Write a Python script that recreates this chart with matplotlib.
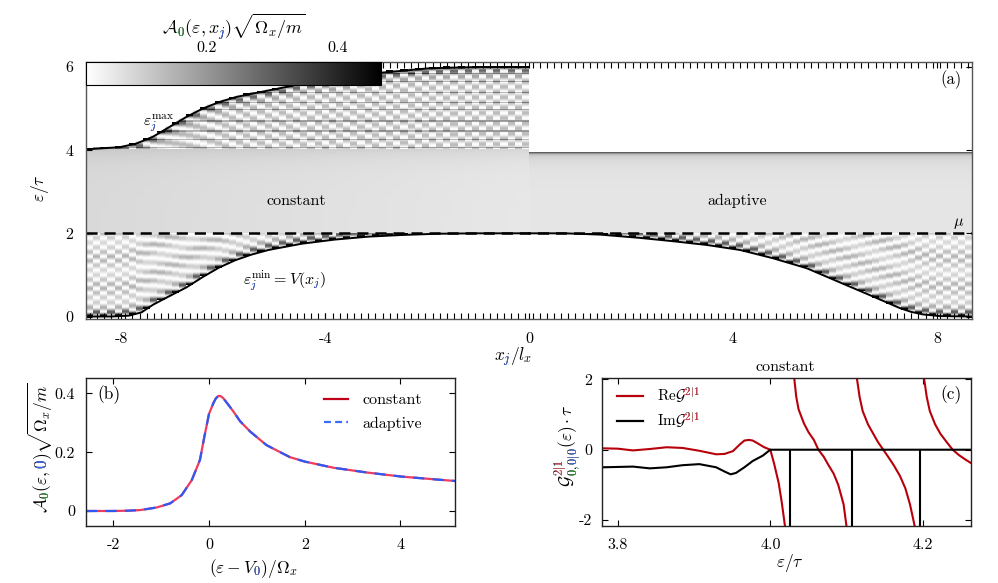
import numpy as np
import matplotlib
matplotlib.use('Agg')
import matplotlib.pyplot as plt
from matplotlib.font_manager import FontProperties
from matplotlib.textpath import text_to_path
from matplotlib.transforms import Bbox, IdentityTransform
from matplotlib.lines import Line2D
from matplotlib.ticker import FixedLocator

plt.rcParams.update({
    'font.family': 'serif',
    'font.serif': ['cmr10'],
    'mathtext.fontset': 'cm',
    'axes.unicode_minus': False,
    'axes.formatter.use_mathtext': True,
    'font.size': 11,
    'lines.scale_dashes': False,
})

# ---------------- data: panel (a) ----------------
X_LIM = 8.69
N_SITES = 124
Y_LO, Y_HI = -0.072, 6.12
N_ROWS = 258
MU = 2.0
ADAPT_TOP = 3.92
MID_TOP = 4.0
A_MIN, A_MAX = 0.015, 0.467

vmin_left_x = [-8.69, -8.2, -7.85, -7.6, -7.38, -7.07, -6.72, -6.40, -6.09, -5.77,
               -5.44, -5.11, -4.46, -3.81, -3.16, -2.50, -1.80, -1.0, 0.0]
vmin_left = [0.0, 0.0, 0.02, 0.10, 0.28, 0.48, 0.70, 0.95, 1.17, 1.35,
             1.49, 1.60, 1.75, 1.85, 1.92, 1.96, 1.99, 2.0, 2.0]
vmin_right_x = [0.0, 0.7, 1.39, 2.18, 2.83, 3.49, 4.14, 4.79, 5.45, 6.10,
                6.75, 7.28, 7.5, 7.73, 8.06, 8.69]
vmin_right = [2.0, 2.0, 1.97, 1.89, 1.81, 1.72, 1.60, 1.40, 1.16, 0.82,
              0.48, 0.20, 0.11, 0.05, 0.01, 0.0]
vmax_left_x = [-8.69, -8.03, -7.70, -7.38, -7.05, -6.72, -6.40, -6.07, -5.74, -5.42,
               -5.09, -4.76, -4.44, -4.11, -3.78, -2.92, -1.94, -0.96, 0.0]
vmax_left = [4.02, 4.07, 4.16, 4.32, 4.56, 4.80, 5.00, 5.16, 5.28, 5.36,
             5.44, 5.52, 5.61, 5.64, 5.69, 5.86, 5.97, 6.0, 6.0]
level_lines = [4.04, 4.24, 4.44, 4.68, 4.96, 5.12, 5.37, 5.62, 5.82]
LOW_PERIOD = 0.22
HIGH_PERIOD = 0.25
xticks_a = [-8, -4, 0, 4, 8]
yticks_a = [0, 2, 4, 6]
cbar_ticks = [0.2, 0.4]

# ---------------- data: panel (b) ----------------
eps_b = [-2.57, -2.0, -1.7, -1.44, -1.09, -0.81, -0.57, -0.36, -0.19, -0.1, 0.0,
         0.09, 0.14, 0.195, 0.25, 0.3, 0.4, 0.51, 0.65, 0.86, 1.2, 1.69, 2.0,
         2.6, 3.29, 4.02, 4.68, 5.14]
a_constant = [0.0, 0.0, 0.001, 0.003, 0.012, 0.026, 0.054, 0.105, 0.173, 0.25, 0.33,
              0.366, 0.382, 0.391, 0.390, 0.383, 0.362, 0.338, 0.305, 0.270, 0.224, 0.183, 0.168,
              0.147, 0.131, 0.117, 0.108, 0.102]
a_adaptive = list(a_constant)
xticks_b = [-2, 0, 2, 4]
yticks_b = [0, 0.2, 0.4]

# ---------------- data: panel (c) ----------------
re_eps = [
    [3.779, 3.80, 3.82, 3.842, 3.864, 3.885, 3.907, 3.929, 3.940, 3.951, 3.960,
     3.966, 3.972, 3.977, 3.985, 3.992, 4.000, 4.005, 4.011, 4.015, 4.019, 4.023],
    [4.029, 4.031, 4.034, 4.037, 4.044, 4.050, 4.057, 4.063, 4.070, 4.076, 4.083,
     4.089, 4.096, 4.100, 4.104],
    [4.110, 4.113, 4.117, 4.121, 4.128, 4.135, 4.141, 4.148, 4.155, 4.162, 4.170,
     4.177, 4.183, 4.189, 4.193],
    [4.199, 4.201, 4.205, 4.209, 4.216, 4.223, 4.231, 4.239, 4.247, 4.255, 4.263],
]
re_val = [
    [0.04, 0.03, -0.02, 0.02, 0.07, 0.05, -0.03, -0.13, -0.12, -0.04, 0.15,
     0.26, 0.28, 0.26, 0.16, 0.07, 0.0, -0.4, -0.95, -1.5, -2.14, -3.0],
    [3.0, 2.1, 1.5, 1.15, 0.75, 0.5, 0.28, 0.0, -0.2, -0.43, -0.68,
     -1.0, -1.55, -2.2, -3.2],
    [3.0, 2.1, 1.5, 1.1, 0.72, 0.45, 0.22, 0.0, -0.22, -0.45, -0.75,
     -1.1, -1.55, -2.15, -3.2],
    [3.0, 2.1, 1.5, 1.1, 0.72, 0.45, 0.22, 0.0, -0.15, -0.27, -0.38],
]
im_eps = [3.779, 3.80, 3.82, 3.842, 3.864, 3.885, 3.907, 3.929, 3.940, 3.948, 3.955,
          3.966, 3.977, 3.990, 4.000, 4.263]
im_val = [-0.50, -0.49, -0.48, -0.53, -0.50, -0.44, -0.41, -0.50, -0.62, -0.70, -0.66,
          -0.50, -0.32, -0.17, 0.0, 0.0]
pole_eps = [4.026, 4.107, 4.196]
POLE_DEPTH = -3.0
xticks_c = [3.8, 4.0, 4.2]
yticks_c = [-2, 0, 2]

GREEN = '#1f9a2a'
BLUE = '#4169ee'
RED_T = '#f03a4c'
TICK_FS = 11.5

# ---------------- figure ----------------
W, H, DPI = 998, 583, 100
fig = plt.figure(figsize=(W / DPI, H / DPI), dpi=DPI)
renderer = fig.canvas.get_renderer()

ax_a = fig.add_axes([86 / W, 1 - 319.5 / H, 886 / W, 257.5 / H])
ax_b = fig.add_axes([86 / W, 1 - 525.7 / H, 369 / W, 147.4 / H])
ax_c = fig.add_axes([601.7 / W, 1 - 525.7 / H, 369.3 / W, 147.4 / H])


def glyph_boxes(s, size):
    prop = FontProperties(size=size)
    info, gmap, rects = text_to_path.get_glyphs_mathtext(prop, s)
    k = size / 100.0 * DPI / 72.0
    boxes = []
    for gid, ox, oy, sc in info:
        verts = np.asarray(gmap[gid][0])
        if verts.size == 0:
            boxes.append((ox * k, ox * k, oy * k, oy * k))
            continue
        v = verts * sc + [ox, oy]
        boxes.append((v[:, 0].min() * k, v[:, 0].max() * k,
                      v[:, 1].min() * k, v[:, 1].max() * k))
    return boxes


def rich_text(xd, yd, s, size, colored, rot=0, align='left', pad=0.8, base=True):
    prop = FontProperties(size=size)
    w, h, d = renderer.get_text_width_height_descent(s, prop, ismath=True)
    off = -w / 2 if align == 'center' else 0.0
    if rot == 0:
        x0, y0 = xd + off, yd
    else:
        x0, y0 = xd, yd + off
    kw = dict(transform=IdentityTransform(), fontsize=size, ha='left',
              va='baseline', rotation=rot, rotation_mode='anchor')
    if base:
        fig.text(x0, y0, s, color='k', **kw)
    boxes = glyph_boxes(s, size)
    for idx, col in colored:
        b = boxes[idx]
        gx0, gx1, gy0, gy1 = b[0] - pad, b[1] + pad, b[2] - pad, b[3] + pad
        if rot == 0:
            bb = Bbox.from_extents(x0 + gx0, y0 + gy0, x0 + gx1, y0 + gy1)
        else:
            bb = Bbox.from_extents(x0 - gy1, y0 + gx0, x0 - gy0, y0 + gx1)
        t = fig.text(x0, y0, s, color=col, **kw)
        t.set_clip_box(bb)
        t.set_clip_on(True)


# ---------------- panel (a) heatmap ----------------
x_edges = np.linspace(-X_LIM, X_LIM, N_SITES + 1)
x_c = 0.5 * (x_edges[1:] + x_edges[:-1])
e_edges = np.linspace(Y_LO, Y_HI, N_ROWS + 1)
e_c = 0.5 * (e_edges[1:] + e_edges[:-1])
left = x_c < 0
lo = np.where(left, np.interp(x_c, vmin_left_x, vmin_left),
              np.interp(x_c, vmin_right_x, vmin_right))
hi = np.where(left, np.interp(x_c, vmax_left_x, vmax_left), ADAPT_TOP)
E = e_c[:, None] * np.ones((1, N_SITES))
J = np.arange(N_SITES)[None, :] * np.ones((N_ROWS, 1))
LO = lo[None, :] * np.ones((N_ROWS, 1))
HI = hi[None, :] * np.ones((N_ROWS, 1))
LM = left[None, :] & np.ones((N_ROWS, 1), bool)
XC = x_c[None, :] * np.ones((N_ROWS, 1))

Z = np.zeros((N_ROWS, N_SITES))
inb = (E >= LO - 0.012) & (E <= HI + 0.012)

d_lo = np.clip(E - LO, 0, None)
osc_lo = 0.5 + 0.5 * np.cos(2 * np.pi * d_lo / LOW_PERIOD + np.pi * J)
env_lo = 0.10 + 0.30 * np.exp(-d_lo / 0.12)
band_lo = 0.75 + 0.25 * np.cos(2 * np.pi * d_lo / 0.7)
z_low = 0.01 + env_lo * (0.1 + 1.3 * osc_lo * band_lo)
m_low = inb & (E < MU)
Z[m_low] = z_low[m_low]

m_mid = inb & (E >= MU) & ((E <= MID_TOP) | ~LM)
z_mid_l = 0.058 + 0.025 * (np.abs(XC) / X_LIM) + 0.03 * np.exp(-np.abs(MID_TOP - E) / 0.25)
z_mid_r = 0.062 + 0.05 * np.exp(-np.abs(HI - E) / 0.2) + 0.22 * np.exp(-np.abs(HI - E) / 0.025)
z_mid = np.where(LM, z_mid_l, z_mid_r)
Z[m_mid] = z_mid[m_mid]

m_up = inb & LM & (E > MID_TOP)
d_hi = np.clip(HI - E, 0, None)
osc_hi = 0.5 + 0.5 * np.cos(2 * np.pi * d_hi / HIGH_PERIOD + np.pi * J)
env_hi = 0.09 + 0.33 * np.exp(-d_hi / 0.10)
z_up = 0.01 + env_hi * (0.1 + 1.3 * osc_hi)
for lv in level_lines:
    z_up = z_up + 0.12 * (np.abs(E - lv) < 0.013)
Z[m_up] = z_up[m_up]

im = ax_a.imshow(Z, extent=[-X_LIM, X_LIM, Y_LO, Y_HI], origin='lower',
                 aspect='auto', cmap='gray_r', vmin=A_MIN, vmax=A_MAX,
                 interpolation='nearest')
ax_a.plot(vmin_left_x, vmin_left, color='k', lw=1.4)
ax_a.plot(vmin_right_x, vmin_right, color='k', lw=1.4)
ax_a.plot(vmax_left_x, vmax_left, color='k', lw=1.4)
ax_a.axhline(MU, color='k', lw=1.8, dashes=(8, 5))
ax_a.set_xlim(-X_LIM, X_LIM)
ax_a.set_ylim(Y_LO, Y_HI)
ax_a.set_xticks(xticks_a, [str(v) for v in xticks_a])
ax_a.set_yticks(yticks_a, [str(v) for v in yticks_a])
ax_a.xaxis.set_minor_locator(FixedLocator(x_c))
ax_a.tick_params(which='both', direction='in', top=True, bottom=True,
                 left=True, right=True, length=4, width=0.8, labelsize=TICK_FS)
ax_a.tick_params(axis='x', which='major', pad=9)
ax_a.tick_params(axis='y', which='major', pad=9)
for sp in ax_a.spines.values():
    sp.set_color('#555555')
    sp.set_linewidth(1.0)

ax_a.text(-4.57, 2.77, 'constant', ha='center', va='center', fontsize=11.5)
ax_a.text(4.08, 2.77, 'adaptive', ha='center', va='center', fontsize=11.5)
ax_a.text(8.42, 2.24, r'$\mu$', ha='center', va='center', fontsize=11.5)
ax_a.text(8.49, 5.69, '(a)', ha='right', va='center', fontsize=12)

cax = ax_a.inset_axes([0.0, 0.9107, 0.333, 0.0893])
cb = fig.colorbar(im, cax=cax, orientation='horizontal')
cb.set_ticks(cbar_ticks, labels=[str(v) for v in cbar_ticks])
cax.xaxis.set_ticks_position('top')
cax.tick_params(length=0, pad=5, labelsize=TICK_FS)
cb.outline.set_linewidth(0.8)

fig.text(40 / W, 1 - 188 / H, r'$\varepsilon/\tau$', rotation=90,
         ha='center', va='center', fontsize=12.5)

# ---------------- panel (b) ----------------
ax_b.plot(eps_b, a_constant, color='#ef3b5d', lw=1.6)
ax_b.plot(eps_b, a_adaptive, color='#2f58f2', lw=1.6, dashes=(8, 6))
ax_b.set_xlim(-2.57, 5.14)
ax_b.set_ylim(-0.05, 0.451)
ax_b.set_xticks(xticks_b, [str(v) for v in xticks_b])
ax_b.set_yticks(yticks_b, ['0', '0.2', '0.4'])
ax_b.tick_params(direction='in', top=True, right=True, length=4.5, width=0.8, labelsize=TICK_FS)
ax_b.tick_params(axis='x', pad=9)
ax_b.tick_params(axis='y', pad=8)
ax_b.text(0.03, 0.887, '(b)', transform=ax_b.transAxes, ha='left', va='center', fontsize=12.5)
hb = [Line2D([], [], color='#c0001a', lw=1.6),
      Line2D([], [], color='#3b6cf5', lw=1.6, dashes=(5, 3))]
ax_b.legend(hb, ['constant', 'adaptive'], loc='upper left', bbox_to_anchor=(0.645, 0.9),
            frameon=False, handlelength=1.5, handletextpad=0.9, labelspacing=0.57,
            borderpad=0, borderaxespad=0, fontsize=11.5)

# ---------------- panel (c) ----------------
for xe, ye in zip(re_eps, re_val):
    ax_c.plot(xe, ye, color='#b8000a', lw=1.5)
ax_c.plot(im_eps, im_val, color='k', lw=1.5)
ax_c.vlines(pole_eps, POLE_DEPTH, 0, color='k', lw=1.5)
ax_c.set_xlim(3.779, 4.263)
ax_c.set_ylim(-2.16, 2.03)
ax_c.set_xticks(xticks_c, ['3.8', '4.0', '4.2'])
ax_c.set_yticks(yticks_c, [str(v) for v in yticks_c])
ax_c.tick_params(direction='in', top=True, right=True, length=4.5, width=0.8, labelsize=TICK_FS)
ax_c.tick_params(axis='x', pad=9)
ax_c.tick_params(axis='y', pad=7)
ax_c.text(0.976, 0.887, '(c)', transform=ax_c.transAxes, ha='right', va='center', fontsize=12.5)
labels_c = [r'$\mathrm{Re}\mathcal{G}^{2|1}$', r'$\mathrm{Im}\mathcal{G}^{2|1}$']
hc = [Line2D([], [], color='#b8000a', lw=1.6), Line2D([], [], color='k', lw=1.6)]
leg_c = ax_c.legend(hc, labels_c, loc='upper left', bbox_to_anchor=(0.041, 0.95),
                    frameon=False, handlelength=1.7, handletextpad=0.9, labelspacing=0.35,
                    borderpad=0, borderaxespad=0, fontsize=11)
fig.text(785, 212, 'constant', transform=IdentityTransform(), ha='center',
         va='baseline', fontsize=11.5)
fig.text(790, 16, r'$\varepsilon/\tau$', transform=IdentityTransform(), ha='center',
         va='baseline', fontsize=12.5)

for sp in list(ax_b.spines.values()) + list(ax_c.spines.values()):
    sp.set_color('#222222')
    sp.set_linewidth(1.0)

# ---------------- rich (multi-coloured) labels ----------------
rich_text(234, H - 34, r'$\mathcal{A}_{0}(\varepsilon,x_{j})\sqrt{\Omega_x/m}$', 13,
          [(1, GREEN), (6, BLUE)], align='center')
rich_text(143, H - 126, r'$\varepsilon_{j}^{\max}$', 11.5, [(4, BLUE)])
rich_text(243, H - 285, r'$\varepsilon_{j}^{\min}=V(x_{j})$', 11.5, [(4, BLUE), (9, BLUE)])
rich_text(513, H - 361, r'$x_{j}/l_{x}$', 12.5, [(1, BLUE)], align='center')
rich_text(48, H - 448, r'$\mathcal{A}_{0}(\varepsilon,0)\sqrt{\Omega_x/m}$', 12.5,
          [(1, GREEN), (5, BLUE)], rot=90, align='center')
rich_text(253, 10, r'$(\varepsilon-V_{0})/\Omega_x$', 12.5, [(4, BLUE)], align='center')
rich_text(574, H - 446, r'$\mathcal{G}^{2|1}_{0,0|0}(\varepsilon)\cdot\tau$', 12.5,
          [(1, RED_T), (2, RED_T), (3, RED_T), (4, GREEN), (5, GREEN),
           (6, BLUE), (7, BLUE), (8, BLUE)], rot=90, align='center')

fig.canvas.draw()
for t, s in zip(leg_c.get_texts(), labels_c):
    bb = t.get_window_extent(renderer)
    w_, h_, d_ = renderer.get_text_width_height_descent(s, t.get_fontproperties(), ismath=True)
    t.set_color('none')
    rich_text(bb.x0, bb.y0 + d_, s, 11, [(3, RED_T), (4, RED_T), (5, RED_T)])

fig.savefig('out.png', dpi=DPI)
